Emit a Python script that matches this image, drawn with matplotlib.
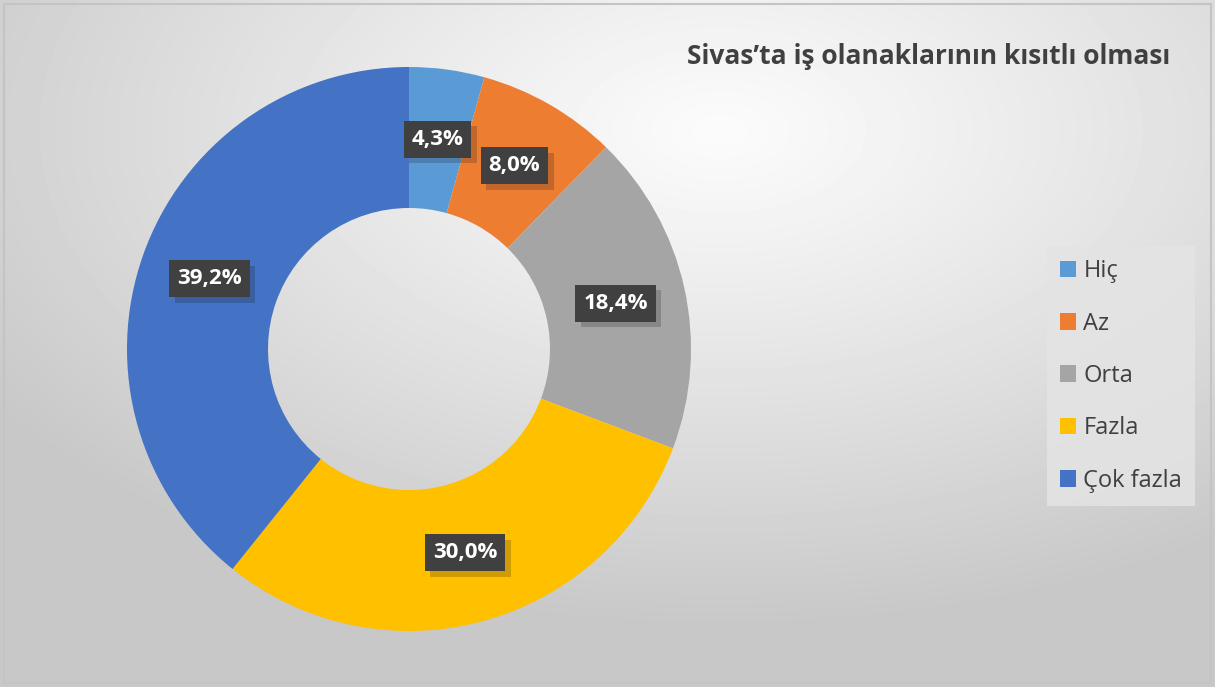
import numpy as np
import matplotlib.pyplot as plt
import matplotlib.patheffects as pe

labels = ["Hiç", "Az", "Orta", "Fazla", "Çok fazla"]
values = [4.3, 8.0, 18.4, 30.0, 39.2]
colors = ["#5B9BD5", "#ED7D31", "#A5A5A5", "#FFC000", "#4472C4"]
title = "Sivas’ta iş olanaklarının kısıtlı olması"

W, H = 1215, 687
fig = plt.figure(figsize=(W / 100, H / 100), dpi=100)

# radial gray background
bg = fig.add_axes([0, 0, 1, 1])
yy, xx = np.mgrid[0:H, 0:W]
d = np.sqrt(((xx - 720) / (1.3 * W)) ** 2 + ((yy - 130) / (1.3 * H)) ** 2)
shade = 0.985 - 0.20 * np.clip(d / 0.55, 0, 1) ** 1.1
bg.imshow(shade, cmap="gray", vmin=0, vmax=1, extent=[0, W, H, 0], aspect="auto")
bg.set_xlim(0, W)
bg.set_ylim(H, 0)
bg.axis("off")
bg.add_patch(plt.Rectangle((4, 4), W - 8, H - 8, fill=False, ec="#c4c4c4", lw=1.5))

ax = fig.add_axes([0, 0, 1, 1])

cx, cy, r = 409, H - 349, 282
wedges, _, autotexts = ax.pie(values, colors=colors, startangle=90, counterclock=False,
                              center=(cx, cy), radius=r, pctdistance=0.75,
                              autopct=lambda p: "", wedgeprops=dict(width=r * 0.5, lw=0))
ax.set_xlim(0, W)
ax.set_ylim(0, H)
ax.set_aspect("equal")
ax.axis("off")

for w, a, v in zip(wedges, autotexts, values):
    a.set_text(f"{v:.1f}%".replace(".", ","))
    a.set_color("white")
    a.set_fontsize(16)
    a.set_fontweight("bold")
    a.set_family("Open Sans")
    a.set_bbox(dict(boxstyle="square,pad=0.36", fc="#404040", ec="none"))
    a.get_bbox_patch().set_path_effects([pe.SimplePatchShadow(offset=(4, -4), alpha=0.2), pe.Normal()])

fig.text(929 / W, 1 - 56 / H, title, ha="center", va="center", fontsize=19,
         fontweight="bold", color="#404040", family="Open Sans")

leg = ax.legend(wedges, labels, loc="center", bbox_to_anchor=(1121 / W, 1 - 376 / H),
                bbox_transform=fig.transFigure, frameon=True, fancybox=False,
                prop=dict(family="Open Sans", size=17), labelcolor="#404040",
                handlelength=0.7, handleheight=0.7, handletextpad=0.3,
                labelspacing=1.2, borderpad=0.55)
leg.get_frame().set_facecolor("#e4e4e4")
leg.get_frame().set_edgecolor("none")
leg.get_frame().set_alpha(0.85)

fig.savefig("out.png", dpi=100)
